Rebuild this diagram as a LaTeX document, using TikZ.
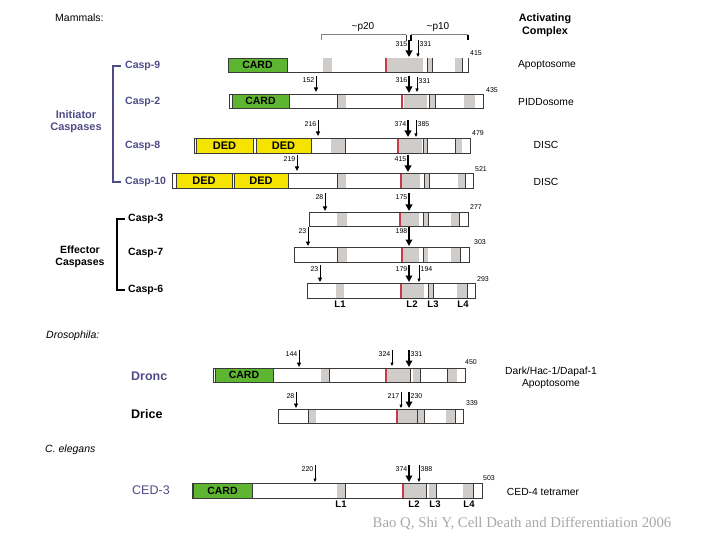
\documentclass[tikz,border=0pt]{standalone}
\usepackage{fontspec}
\setmainfont{Liberation Sans}
\newfontfamily\citefont{Liberation Serif}
\usetikzlibrary{arrows.meta}
\definecolor{slate}{HTML}{4E4C86}
\definecolor{cardg}{HTML}{5DB531}
\definecolor{dedy}{HTML}{F4E400}
\definecolor{gfill}{HTML}{D0CCC9}
\definecolor{redl}{HTML}{C83A48}
\definecolor{dkl}{HTML}{3A3A3A}
\definecolor{citeg}{HTML}{A8A8A8}
\newcommand\gr[2]{\fill[gfill] (#1,\T) rectangle (#2,\B);}
\newcommand\dk[1]{\draw[dkline] (#1,\T) -- (#1,\B);}
\newcommand\rd[1]{\draw[redline] (#1,\T) -- (#1,\B);}
\newcommand\dom[6]{\fill[#2] (#3,\T) rectangle (#4,\B);
  \draw[domline] (#3,\T) rectangle (#4,\B);
  \node[#6] (#1) at ({(#3+#4)/2},{(\T+\B)/2}) {#5};}
\newcommand\cutL[6]{\coordinate (#1a) at (#3,#4); \coordinate (#1b) at (#3,#5);
  \draw[#2] (#1a) -- (#1b);
  \node[num,anchor=east] (#1t) at (#3-1.5,#4+4) {#6};}
\newcommand\cutR[6]{\coordinate (#1a) at (#3,#4); \coordinate (#1b) at (#3,#5);
  \draw[#2] (#1a) -- (#1b);
  \node[num,anchor=west] (#1t) at (#3+1.5,#4+4) {#6};}
\begin{document}
\begin{tikzpicture}[x=1pt,y=-1pt,
  barline/.style={draw=dkl,line width=0.7pt},
  dkline/.style={draw=dkl,line width=0.9pt},
  redline/.style={draw=redl,line width=1.2pt},
  domline/.style={draw=dkl,line width=0.5pt},
  cardtxt/.style={font=\bfseries\fontsize{10.5}{12}\selectfont,inner sep=0pt},
  dedtxt/.style={font=\bfseries\fontsize{11}{12}\selectfont,inner sep=0pt},
  num/.style={font=\fontsize{7}{8}\selectfont,inner sep=0pt},
  big/.style={line width=1.7pt,-{Triangle[length=6.5pt,width=6.5pt]}},
  med/.style={line width=0.9pt,-{Triangle[length=4.5pt,width=4pt]}},
  thin/.style={line width=0.6pt,-{Triangle[length=3.5pt,width=3pt]}},
  casp/.style={font=\bfseries\fontsize{10.5}{12}\selectfont,text=slate,inner sep=0pt,anchor=west},
  effc/.style={font=\bfseries\fontsize{10.5}{12}\selectfont,inner sep=0pt,anchor=west},
  grp/.style={font=\bfseries\fontsize{11}{13}\selectfont,inner sep=0pt},
  plain/.style={font=\fontsize{10.5}{12}\selectfont,inner sep=0pt},
  cx/.style={font=\fontsize{10.3}{12}\selectfont,inner sep=0pt},
  lab/.style={font=\bfseries\fontsize{9.5}{11}\selectfont,inner sep=0pt},
  ]
\useasboundingbox (0,0) rectangle (720,540);

% ---------- left labels ----------
\node[plain,anchor=west] (mam) at (55,18) {Mammals:};
\node[casp] (c9) at (125,66) {Casp-9};
\node[casp] (c2) at (125,102) {Casp-2};
\node[casp] (c8) at (125,146) {Casp-8};
\node[casp] (c10) at (125,182) {Casp-10};
\draw[slate,line width=1.8pt] (121,66) -- (113,66) -- (113,182) -- (121,182);
\node[grp,text=slate] (ini1) at (76,115) {Initiator};
\node[grp,text=slate] (ini2) at (76,128) {Caspases};
\node[effc] (c3) at (128,219) {Casp-3};
\node[effc] (c7) at (128,253) {Casp-7};
\node[effc] (c6) at (128,290) {Casp-6};
\draw[black,line width=1.8pt] (125,219) -- (117,219) -- (117,290) -- (125,290);
\node[grp,font=\bfseries\fontsize{10.5}{12}\selectfont] (eff1) at (80,250) {Effector};
\node[grp,font=\bfseries\fontsize{10.5}{12}\selectfont] (eff2) at (80,263) {Caspases};
\node[plain,anchor=west,font=\itshape\fontsize{10.5}{12}\selectfont] (dros) at (46,336) {Drosophila:};
\node[casp,font=\bfseries\fontsize{12.5}{14}\selectfont] (dronc) at (131,376) {Dronc};
\node[effc,font=\bfseries\fontsize{12.5}{14}\selectfont] (drice) at (131,414) {Drice};
\node[plain,anchor=west,font=\itshape\fontsize{10.5}{12}\selectfont] (cel) at (45,450) {C. elegans};
\node[casp,font=\fontsize{12.5}{14}\selectfont] (ced3) at (132,490) {CED-3};

% ---------- right labels ----------
\node[grp,font=\bfseries\fontsize{10.8}{12}\selectfont] (act1) at (545,19) {Activating};
\node[grp,font=\bfseries\fontsize{10.8}{12}\selectfont] (act2) at (545,32) {Complex};
\node[cx] (r9) at (547,65) {Apoptosome};
\node[cx] (r2) at (546,102) {PIDDosome};
\node[cx] (r8) at (546,145) {DISC};
\node[cx] (r10) at (546,182) {DISC};
\node[cx] (rdr1) at (551,372) {Dark/Hac-1/Dapaf-1};
\node[cx] (rdr2) at (551,384) {Apoptosome};
\node[cx] (rced) at (543,492) {CED-4 tetramer};

% ---------- p20 / p10 brackets ----------
\coordinate (p20a) at (321,35); \coordinate (p20b) at (406,35);
\coordinate (p10a) at (411,35); \coordinate (p10b) at (468,35);
\draw[gray,line width=1pt] (p20a) -- (p20b);
\draw[gray,line width=0.8pt] (p20a) -- ++(0,5);
\draw[dkl,line width=1pt] (p20b) -- ++(0,6);
\draw[gray,line width=1pt] (p10a) -- (p10b);
\draw[black,line width=1.4pt] (p10a) -- ++(0,6);
\draw[black,line width=1.4pt] (p10b) -- ++(0,5);
\node[plain,font=\fontsize{10}{11}\selectfont] (p20) at (363,27) {\textasciitilde p20};
\node[plain,font=\fontsize{10}{11}\selectfont] (p10) at (438,27) {\textasciitilde p10};

% ---------- Casp-9 ----------
\def\T{58}\def\B{72}
\gr{323}{332}\gr{387}{423}\gr{427}{432}\gr{455}{462}
\rd{386}\dk{427}\dk{432}\dk{462}
\draw[barline] (228,\T) -- (228,\B) -- (468,\B) -- (468,\T);
\dom{card9}{cardg}{228}{287}{CARD}{cardtxt}
\node[num,anchor=west] (n9) at (470,53) {415};
\cutL{a91}{big}{409}{40}{57}{315}
\cutR{a92}{thin}{418}{40}{57}{331}

% ---------- Casp-2 ----------
\def\T{94}\def\B{108}
\gr{338}{346}\gr{404}{427}\gr{429}{435}\gr{464}{475}
\dk{337}\rd{402}\dk{429}\dk{435}
\draw[barline] (229,\T) rectangle (483,\B);
\dom{card2}{cardg}{232}{289}{CARD}{cardtxt}
\node[num,anchor=west] (n2) at (486,90) {435};
\cutL{a21}{med}{316}{76}{92}{152}
\cutL{a22}{big}{409}{76}{93}{316}
\cutR{a23}{thin}{417}{77}{92}{331}

% ---------- Casp-8 ----------
\def\T{138}\def\B{153}
\gr{331}{345}\gr{398}{422}\gr{423}{427}\gr{455}{462}
\dk{345}\rd{398}\dk{423}\dk{427}\dk{455}
\draw[barline] (194,\T) rectangle (470,\B);
\dom{ded81}{dedy}{196}{253}{DED}{dedtxt}
\dom{ded82}{dedy}{256}{311}{DED}{dedtxt}
\node[num,anchor=west] (n8) at (472,133) {479};
\cutL{a81}{med}{318}{120}{136}{216}
\cutL{a82}{big}{408}{120}{137}{374}
\cutR{a83}{thin}{416}{120}{137}{385}

% ---------- Casp-10 ----------
\def\T{173}\def\B{188}
\gr{337}{346}\gr{401}{420}\gr{424}{429}\gr{458}{465}
\dk{337}\rd{401}\dk{424}\dk{429}\dk{465}
\draw[barline] (172,\T) rectangle (473,\B);
\dom{ded101}{dedy}{176}{232}{DED}{dedtxt}
\dom{ded102}{dedy}{234}{288}{DED}{dedtxt}
\node[num,anchor=west] (n10) at (475,169) {521};
\cutL{a101}{med}{297}{155}{171}{219}
\cutL{a102}{big}{408}{155}{172}{415}

% ---------- Casp-3 ----------
\def\T{212}\def\B{226}
\gr{337}{347}\gr{400}{419}\gr{423}{428}\gr{451}{459}
\rd{400}\dk{423}\dk{428}\dk{459}
\draw[barline] (309,\T) rectangle (468,\B);
\node[num,anchor=west] (n3) at (470,207) {277};
\cutL{a31}{med}{325}{193}{211}{28}
\cutL{a32}{big}{409}{193}{211}{175}

% ---------- Casp-7 ----------
\def\T{247}\def\B{262}
\gr{337}{347}\gr{402}{419}\gr{423}{428}\gr{451}{460}
\dk{337}\rd{402}\dk{423}\dk{460}
\draw[barline] (294,\T) rectangle (469,\B);
\node[num,anchor=west] (n7) at (474,242) {303};
\cutL{a71}{med}{308}{227}{246}{23}
\cutL{a72}{big}{409}{227}{246}{198}

% ---------- Casp-6 ----------
\def\T{283}\def\B{298}
\gr{336}{344}\gr{401}{424}\gr{428}{433}\gr{457}{467}
\rd{401}\dk{428}\dk{433}\dk{467}
\draw[barline] (307,\T) rectangle (475,\B);
\node[num,anchor=west] (n6) at (477,279) {293};
\cutL{a61}{med}{320}{265}{282}{23}
\cutL{a62}{big}{409}{265}{282}{179}
\cutR{a63}{thin}{419}{265}{282}{194}
\node[lab] (l61) at (340,304) {L1};
\node[lab] (l62) at (412,304) {L2};
\node[lab] (l63) at (433,304) {L3};
\node[lab] (l64) at (463,304) {L4};

% ---------- Dronc ----------
\def\T{368}\def\B{382}
\gr{321}{329}\gr{386}{410}\gr{413}{420}\gr{447}{457}
\dk{329}\rd{386}\dk{410}\dk{420}\dk{447}
\draw[barline] (213,\T) rectangle (465,\B);
\dom{cardd}{cardg}{215}{273}{CARD}{cardtxt}
\node[num,anchor=west] (ndr) at (465,362) {450};
\cutL{ad1}{med}{299}{350}{367}{144}
\cutL{ad2}{thin}{392}{350}{366}{324}
\cutR{ad3}{big}{409}{350}{367}{331}

% ---------- Drice ----------
\def\T{409}\def\B{423}
\gr{308}{316}\gr{397}{417}\gr{418}{424}\gr{446}{455}
\dk{308}\rd{397}\dk{417}\dk{424}\dk{455}
\draw[barline] (278,\T) rectangle (463,\B);
\node[num,anchor=west] (ndi) at (466,403) {339};
\cutL{ai1}{med}{296}{392}{408}{28}
\cutL{ai2}{thin}{401}{392}{408}{217}
\cutR{ai3}{big}{409}{392}{408}{230}

% ---------- CED-3 ----------
\def\T{483}\def\B{498}
\gr{337}{345}\gr{403}{426}\gr{429}{436}\gr{463}{473}
\dk{345}\rd{403}\dk{426}\dk{436}\dk{473}
\draw[barline] (192,\T) rectangle (482,\B);
\dom{cardc}{cardg}{193}{252}{CARD}{cardtxt}
\node[num,anchor=west] (nce) at (483,478) {503};
\cutL{ac1}{thin}{315}{465}{482}{220}
\cutL{ac2}{big}{409}{465}{482}{374}
\cutR{ac3}{thin}{419}{465}{482}{388}
\node[lab] (lc1) at (341,504) {L1};
\node[lab] (lc2) at (414,504) {L2};
\node[lab] (lc3) at (435,504) {L3};
\node[lab] (lc4) at (469,504) {L4};

% ---------- citation ----------
\node[inner sep=0pt,text=citeg,font=\citefont\fontsize{14.8}{16}\selectfont] (cite) at (522,523) {Bao Q, Shi Y, Cell Death and Differentiation 2006};
\end{tikzpicture}
\end{document}
